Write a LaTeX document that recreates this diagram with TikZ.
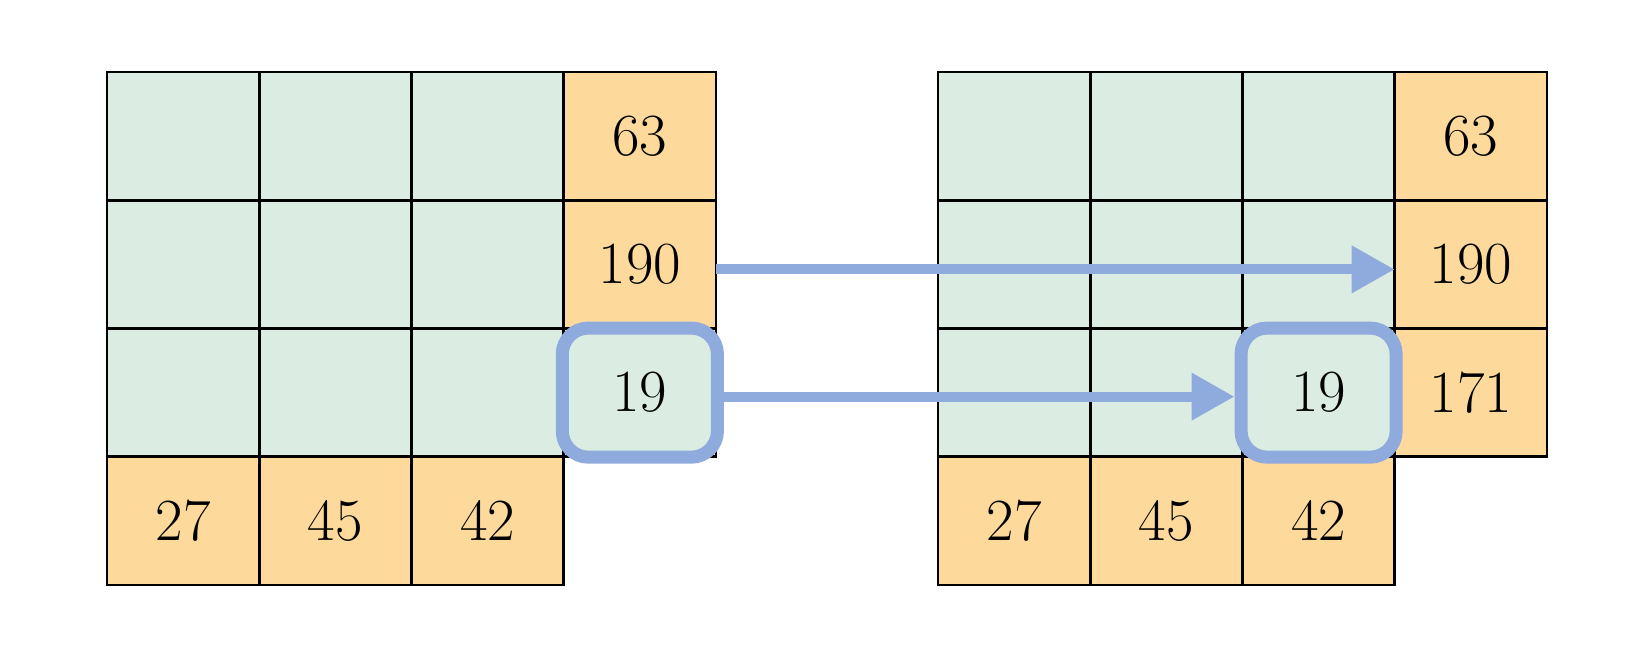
\documentclass[tikz,border=0pt]{standalone}
\usepackage{xcolor}
\usepackage{tikz}
\usetikzlibrary{arrows.meta,positioning}

\begin{document}
\begin{tikzpicture}[
    x=0.01cm,y=-0.01cm,
    cell/.style={draw=black,line width=0.8pt,minimum width=1.5225cm,minimum height=1.2825cm,
      inner sep=0pt,outer sep=0pt,font=\fontsize{17}{20}\selectfont},
    green cell/.style={cell,fill=cellgreen},
    orange cell/.style={cell,fill=cellorange},
    hilite/.style={draw=hiblue,line width=3.7pt,rounded corners=0.26cm,
      minimum width=1.55cm,minimum height=1.29cm},
    move/.style={draw=hiblue,line width=2.9pt,-{Triangle[length=0.43cm,width=0.45cm]}}
  ]
  \definecolor{cellgreen}{RGB}{219,237,226}
  \definecolor{cellorange}{RGB}{253,218,155}
  \definecolor{hiblue}{RGB}{143,170,220}
  \def\xL{183.1} \def\xR{1014.1}
  \useasboundingbox (0,0) rectangle (1648,656);
  \foreach \r in {0,1,2}
  \foreach \c in {0,1,2}
  \node[green cell] (L-\r-\c) at ({\xL+152.25*\c},{136.1+128.25*\r}) {};
  \foreach \r/\v in {0/63,1/190}
  \node[orange cell] (L-\r-3) at ({\xL+152.25*3},{136.1+128.25*\r}) {\v};
  \node[green cell] (L-2-3) at ({\xL+152.25*3},392.6) {19};
  \foreach \c/\v in {0/27,1/45,2/42}
  \node[orange cell] (L-3-\c) at ({\xL+152.25*\c},520.9) {\v};
  \foreach \r in {0,1}
  \foreach \c in {0,1,2}
  \node[green cell] (R-\r-\c) at ({\xR+152.25*\c},{136.1+128.25*\r}) {};
  \foreach \c in {0,1}
  \node[green cell] (R-2-\c) at ({\xR+152.25*\c},392.6) {};
  \node[green cell] (R-2-2) at ({\xR+152.25*2},392.6) {19};
  \foreach \r/\v in {0/63,1/190,2/171}
  \node[orange cell] (R-\r-3) at ({\xR+152.25*3},{136.1+128.25*\r}) {\v};
  \foreach \c/\v in {0/27,1/45,2/42}
  \node[orange cell] (R-3-\c) at ({\xR+152.25*\c},520.9) {\v};
  \node[hilite] (hiL) at (L-2-3) {};
  \node[hilite] (hiR) at (R-2-2) {};
  \draw[move] ([yshift=-0.05cm]L-1-3.east) -- ([yshift=-0.05cm]R-1-3.west);
  \draw[move] ([yshift=-0.04cm]hiL.east) -- ([yshift=-0.04cm]hiR.west);
\end{tikzpicture}
\end{document}
